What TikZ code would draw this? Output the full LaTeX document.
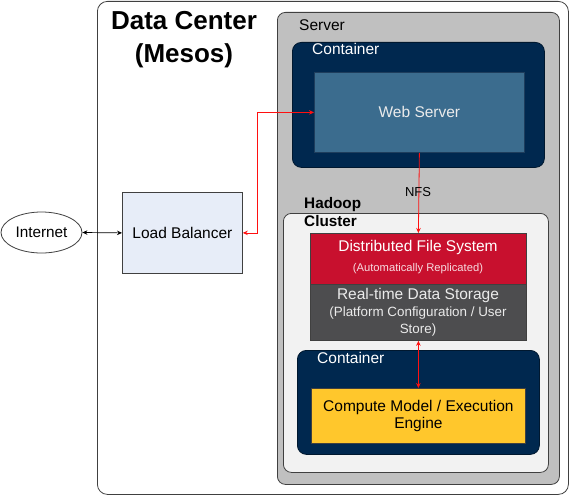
\documentclass[tikz,border=0pt]{standalone}
\usepackage{fontspec}
\setmainfont{Liberation Sans}
\usetikzlibrary{arrows.meta,shapes.geometric}
\definecolor{srvgray}{HTML}{C0C0C0}
\definecolor{navy}{HTML}{00284F}
\definecolor{wsblue}{HTML}{3B6C8E}
\definecolor{wsborder}{HTML}{1E3D5C}
\definecolor{dfsred}{HTML}{C8102E}
\definecolor{rtsgray}{HTML}{4D4D4F}
\definecolor{compyellow}{HTML}{FFC72C}
\definecolor{lbblue}{HTML}{E7EDF8}
\definecolor{hcgray}{HTML}{F2F2F2}
\definecolor{linegray}{HTML}{404040}
\definecolor{arrred}{HTML}{FF1010}
\tikzset{
  region/.style={draw=linegray, line width=0.8pt, rounded corners=#1, inner sep=0pt},
  block/.style={draw=linegray, line width=0.8pt, inner sep=0pt, align=center, anchor=north west},
  lbl/.style={font=\fontsize{15.5}{18}\selectfont, inner sep=0pt},
  smalllbl/.style={font=\fontsize{13.4}{17}\selectfont},
  redarr/.style={draw=arrred, line width=0.8pt, {Stealth[length=5pt,width=4.5pt]}-{Stealth[length=5pt,width=4.5pt]}},
  redone/.style={draw=arrred, line width=0.8pt, -{Stealth[length=5pt,width=4.5pt]}},
  blkarr/.style={draw=black, line width=0.7pt, {Stealth[length=5pt,width=4.5pt]}-{Stealth[length=5pt,width=4.5pt]}},
}
\begin{document}
\begin{tikzpicture}[x=1pt,y=-1pt]
\useasboundingbox (0,0) rectangle (570,495);
% Data center
\node[region=10pt, fill=white, minimum width=471pt, minimum height=493pt, anchor=north west] (dc) at (97,1) {};
\node[font=\fontsize{26}{32.5}\selectfont\bfseries, align=center, inner sep=0pt] (dctitle) at (184,39.5) {Data Center\\(Mesos)};
% Server
\node[region=8pt, fill=srvgray, minimum width=282pt, minimum height=472pt, anchor=north west] (srv) at (277,12) {};
\node[lbl, anchor=west] (srvlbl) at (299,25) {Server};
% Top container
\node[region=9pt, fill=navy, draw=navy!60!black, minimum width=252pt, minimum height=125pt, anchor=north west] (ct1) at (292,42) {};
\node[lbl, text=white, anchor=west] (ct1lbl) at (312,49) {Container};
\node[block, fill=wsblue, draw=wsborder, minimum width=210pt, minimum height=80pt, text=white!92!black, font=\fontsize{15.5}{18}\selectfont] (ws) at (314,72) {Web Server};
% Hadoop cluster
\node[region=8pt, fill=hcgray, minimum width=265pt, minimum height=259pt, anchor=north west] (hc) at (283,213) {};
\node[lbl, font=\fontsize{15.3}{18.5}\selectfont\bfseries, align=left, anchor=north west] (hclbl) at (304,197) {Hadoop\\Cluster};
\node[block, fill=dfsred, text=white, minimum width=216pt, minimum height=51pt] (dfs) at (310,233) {};
\node[lbl, text=white] (dfst) at (418,247.5) {Distributed File System};
\node[font=\fontsize{11.2}{13}\selectfont, text=white!85!dfsred, inner sep=0pt] (dfss) at (418,269) {(Automatically Replicated)};
\node[block, fill=rtsgray, minimum width=216pt, minimum height=56pt] (rts) at (310,284) {};
\node[lbl, text=white!92!black] (rtst) at (418,295) {Real-time Data Storage};
\node[smalllbl, text=white!92!black, align=center, inner sep=0pt] (rtss) at (418,321.5) {(Platform Configuration / User\\Store)};
% Bottom container
\node[region=9pt, fill=navy, draw=navy!60!black, minimum width=242pt, minimum height=104pt, anchor=north west] (ct2) at (297,350) {};
\node[lbl, text=white, anchor=west] (ct2lbl) at (317,358) {Container};
\node[block, fill=compyellow, minimum width=214pt, minimum height=55pt, font=\fontsize{15.5}{17.7}\selectfont] (comp) at (311,388) {Compute Model / Execution\\Engine};
% Load balancer & Internet
\node[block, fill=lbblue, minimum width=120pt, minimum height=81pt, font=\fontsize{15.5}{18}\selectfont] (lb) at (122,192) {Load Balancer};
\node[ellipse, draw=linegray, line width=0.8pt, fill=white, minimum width=81pt, minimum height=41pt, inner sep=0pt, font=\fontsize{15.3}{18}\selectfont] (inet) at (41.5,232.5) {Internet};
% connectors
\draw[blkarr] (inet.east) -- (lb.west);
\draw[redarr] (lb.east) -- ++(15,0) |- (ws.west);
\draw[redone] (ws.south) -- (dfs.north);
\node[font=\fontsize{13}{15}\selectfont, inner sep=0pt] (nfs) at (418,192) {NFS};
\draw[redarr] (rts.south) -- (comp.north);
\end{tikzpicture}
\end{document}
